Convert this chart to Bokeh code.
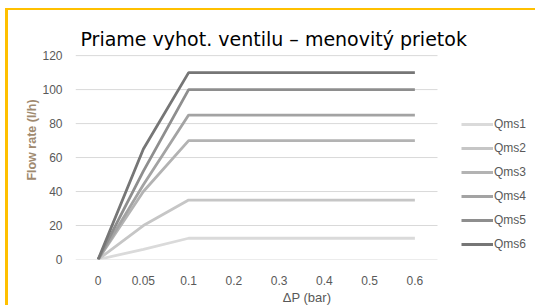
from bokeh.plotting import figure
from bokeh.models import Legend, LegendItem, Label, Range1d, FixedTicker
from bokeh.embed import file_html
from bokeh.resources import INLINE

categories = ["0", "0.05", "0.1", "0.2", "0.3", "0.4", "0.5", "0.6"]
qms1 = [0, 6, 12.5, 12.5, 12.5, 12.5, 12.5, 12.5]
qms2 = [0, 20, 35, 35, 35, 35, 35, 35]
qms3 = [0, 40, 70, 70, 70, 70, 70, 70]
qms4 = [0, 44, 85, 85, 85, 85, 85, 85]
qms5 = [0, 52, 100, 100, 100, 100, 100, 100]
qms6 = [0, 65, 110, 110, 110, 110, 110, 110]
y_ticks = [0, 20, 40, 60, 80, 100, 120]
series_names = ["Qms1", "Qms2", "Qms3", "Qms4", "Qms5", "Qms6"]
series = [qms1, qms2, qms3, qms4, qms5, qms6]
colors = ["#dadada", "#c6c6c6", "#b3b3b3", "#a3a3a3", "#8e8e8e", "#767676"]

xs = list(range(len(categories)))
W, H = 530, 297
LEFT, TOP, BOTTOM = 67, 10, 42
CAT_PX = 45.25
PLOT_PX = 209.0  # pixel height of the 0..120 span
frame_w = W - LEFT
frame_h = H - TOP - BOTTOM
x_end = -0.5 + frame_w / CAT_PX
y_end = y_ticks[-1] * frame_h / PLOT_PX

p = figure(width=W, height=H, x_range=Range1d(-0.5, x_end), y_range=Range1d(0, y_end),
           output_backend="svg", toolbar_location=None,
           min_border_left=LEFT, min_border_right=0, min_border_top=TOP, min_border_bottom=BOTTOM)
p.styles = {"margin-top": "8px", "margin-left": "5px",
            "border-top": "2px solid #FFC000", "border-left": "3px solid #FFC000"}
p.outline_line_color = None
p.background_fill_color = "white"

p.xgrid.grid_line_color = None
p.ygrid.grid_line_color = None
p.segment(x0=-0.5, x1=len(categories) - 0.5, y0=y_ticks, y1=y_ticks,
          line_color="#d9d9d9", line_width=1)

p.xaxis.ticker = FixedTicker(ticks=xs)
p.xaxis.major_label_overrides = {i: c for i, c in zip(xs, categories)}
p.yaxis.ticker = FixedTicker(ticks=y_ticks)

for ax in (p.xaxis[0], p.yaxis[0]):
    ax.axis_line_color = None
    ax.major_tick_line_color = None
    ax.minor_tick_line_color = None
    ax.major_label_text_color = "#595959"
    ax.major_label_text_font = "Liberation Sans"
    ax.major_label_text_font_size = "12px"
    ax.axis_label_text_font = "Liberation Sans"
    ax.axis_label_text_font_style = "normal"

p.xaxis.major_label_standoff = 10
p.yaxis.major_label_standoff = 7

p.xaxis.axis_label = "ΔP (bar)"
p.xaxis.axis_label_text_color = "#595959"
p.xaxis.axis_label_text_font_size = "13px"
p.xaxis.axis_label_standoff = 2

p.yaxis.axis_label = "Flow rate (l/h)"
p.yaxis.axis_label_text_color = "#a08a70"
p.yaxis.axis_label_text_font_size = "12.5px"
p.yaxis.axis_label_text_font_style = "bold"
p.yaxis.axis_label_standoff = 0

items = []
for name, vals, c in zip(series_names, series, colors):
    r = p.line(xs, vals, line_color=c, line_width=2.8)
    items.append(LegendItem(label=name, renderers=[r]))

legend = Legend(items=items, location=(386, 5), orientation="vertical",
                label_text_font="Liberation Sans", label_text_font_size="12px",
                label_text_color="#595959", glyph_width=32, glyph_height=20,
                label_height=20, spacing=4, padding=0, margin=0, label_standoff=1,
                border_line_color=None, background_fill_alpha=0)
p.add_layout(legend)

title = Label(x=5, y=221, x_units="screen", y_units="screen",
              text="Priame vyhot. ventilu – menovitý prietok",
              text_font="DejaVu Sans", text_font_size="19px",
              text_color="#000000", text_align="left", text_baseline="alphabetic")
p.add_layout(title)

open("out.html", "w").write(file_html(p, INLINE))
